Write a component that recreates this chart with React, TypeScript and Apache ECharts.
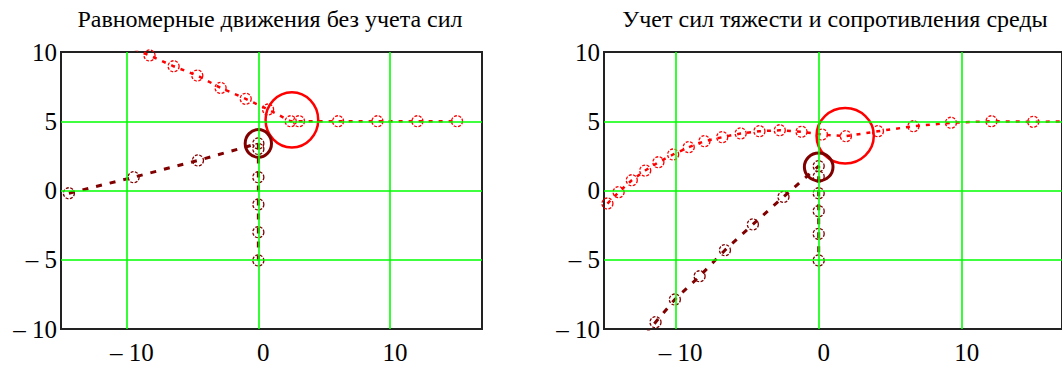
import React, { useEffect, useRef } from "react";
import * as echarts from "echarts";

const titleLeft = "Равномерные движения без учета сил";
const titleRight = "Учет сил тяжести и сопротивления среды";

const xTicks = [-10, 0, 10];
const yTicks = [-10, -5, 0, 5, 10];
const xGridLines = [-10, 0, 10];
const yGridLines = [-5, 0, 5];

// Left panel: uniform motion
const leftRed: number[][] = [
  [-10.1, 10.5], [-8.27, 9.75], [-6.44, 8.97], [-4.64, 8.3], [-2.87, 7.41],
  [-0.96, 6.62], [0.74, 5.85], [2.46, 5.0], [3.09, 5.0], [6.06, 5.0],
  [9.05, 5.0], [12.09, 5.0], [15.1, 5.0],
];
const leftDark: number[][] = [
  [-14.4, -0.2], [-9.48, 0.96], [-4.59, 2.17], [0, 3.4], [0, 3.0],
  [0, 0.96], [0, -1.01], [0, -3.01], [0, -5.05],
];
// [cx, cy, radius]
const leftRedBall = [[2.55, 5.1, 2]];
const leftDarkBall = [[0, 3.4, 1]];

// Right panel: gravity and drag
const rightRed: number[][] = [
  [-14.76, -0.94], [-13.98, -0.12], [-13.06, 0.74], [-12.12, 1.44], [-11.2, 2.04],
  [-10.17, 2.6], [-9.08, 3.13], [-7.98, 3.56], [-6.74, 3.85], [-5.45, 4.12],
  [-4.14, 4.28], [-2.72, 4.35], [-1.2, 4.24], [0.23, 4.04], [1.9, 3.92],
  [4.14, 4.28], [6.62, 4.64], [9.24, 4.89], [12.07, 5.0], [14.99, 4.96], [18.0, 5.0],
];
const rightDark: number[][] = [
  [-12.7, -11.2], [-11.4, -9.51], [-10.05, -7.87], [-8.32, -6.19], [-6.55, -4.31],
  [-4.6, -2.45], [-2.46, -0.46], [0, 1.76], [0, 1.0], [0, -0.2],
  [0, -1.49], [0, -3.13], [0, -5.05],
];
const rightRedBall = [[1.85, 3.95, 2]];
const rightDarkBall = [[0, 1.7, 1]];

const RED = "#ff0000";
const DARK = "#800000";
const GREEN = "#00ff00";
const FONT = "'Liberation Serif', 'Times New Roman', serif";

const fmt = (v: number) => (v < 0 ? "\u2013 " + Math.abs(v) : String(v));

export default function App() {
  const ref = useRef<HTMLDivElement>(null);
  useEffect(() => {
    if (!ref.current) return;
    const chart = echarts.init(ref.current, undefined, { renderer: "svg" });

    const xAxisBase = (gridIndex: number) => ({
      type: "value",
      gridIndex,
      min: -15,
      max: 17,
      axisLine: { show: false },
      axisTick: { show: false },
      splitLine: { show: false },
      axisLabel: {
        customValues: xTicks,
        formatter: fmt,
        color: "#000",
        fontFamily: FONT,
        fontSize: 25,
        margin: 11,
        padding: [0, 0, 0, 10],
      },
    });
    const yAxisBase = (gridIndex: number) => ({
      type: "value",
      gridIndex,
      min: -10,
      max: 10,
      interval: 5,
      axisLine: { show: false },
      axisTick: { show: false },
      splitLine: { show: false },
      axisLabel: {
        customValues: yTicks,
        formatter: fmt,
        color: "#000",
        fontFamily: FONT,
        fontSize: 25,
        margin: 4,
        padding: [7, 0, 0, 0],
      },
    });

    const gridLineSeries = (idx: number) => ({
      type: "line",
      xAxisIndex: idx,
      yAxisIndex: idx,
      data: [[-100, -100]],
      showSymbol: false,
      lineStyle: { opacity: 0 },
      z: 1,
      markLine: {
        silent: true,
        symbol: "none",
        label: { show: false },
        lineStyle: { color: GREEN, width: 1.6, type: "solid" },
        data: [
          ...xGridLines.map((v) => ({ xAxis: v })),
          ...yGridLines.map((v) => ({ yAxis: v })),
        ],
      },
    });

    const pathSeries = (idx: number, data: number[][], color: string, dash: number[], width: number) => ({
      type: "line",
      xAxisIndex: idx,
      yAxisIndex: idx,
      data,
      z: 3,
      symbol: "circle",
      symbolSize: 11,
      showAllSymbol: true,
      lineStyle: { color, width, type: dash },
      itemStyle: { color: "rgba(0,0,0,0)", borderColor: color, borderWidth: 1.3, borderType: [3, 1.5] },
    });

    const ballSeries = (idx: number, data: number[][], color: string, width: number) => ({
      type: "custom",
      xAxisIndex: idx,
      yAxisIndex: idx,
      data,
      z: 4,
      renderItem: (params: any, api: any) => {
        const c = api.coord([api.value(0), api.value(1)]);
        const s = api.size([api.value(2), api.value(2)]);
        return {
          type: "ellipse",
          shape: { cx: c[0], cy: c[1], rx: s[0], ry: s[1] },
          style: { fill: "none", stroke: color, lineWidth: width },
        };
      },
    });

    chart.setOption({
      animation: false,
      backgroundColor: "#fff",
      grid: [
        { left: 61, top: 52, width: 421, height: 277, show: true, borderColor: "#222", borderWidth: 2, backgroundColor: "transparent" },
        { left: 604, top: 52, width: 465, height: 277, show: true, borderColor: "#222", borderWidth: 2, backgroundColor: "transparent" },
      ],
      xAxis: [xAxisBase(0), xAxisBase(1)],
      yAxis: [yAxisBase(0), yAxisBase(1)],
      graphic: [
        { type: "text", x: 270, y: 7, style: { text: titleLeft, textAlign: "center", fill: "#000", font: `24px ${FONT}` } },
        { type: "text", x: 835, y: 7, style: { text: titleRight, textAlign: "center", fill: "#000", font: `24px ${FONT}` } },
      ],
      series: [
        gridLineSeries(0),
        gridLineSeries(1),
        pathSeries(0, leftDark, DARK, [6, 8], 3),
        pathSeries(0, leftRed, RED, [4, 6], 2.5),
        ballSeries(0, leftRedBall, RED, 2.5),
        ballSeries(0, leftDarkBall, DARK, 3),
        pathSeries(1, rightDark, DARK, [6, 8], 3),
        pathSeries(1, rightRed, RED, [4, 6], 2.5),
        ballSeries(1, rightRedBall, RED, 2.5),
        ballSeries(1, rightDarkBall, DARK, 3),
      ],
    });
    return () => chart.dispose();
  }, []);
  return (
    <div
      ref={ref}
      style={{ position: "fixed", left: 0, top: 0, width: 1062, height: 365, overflow: "hidden" }}
    />
  );
}
